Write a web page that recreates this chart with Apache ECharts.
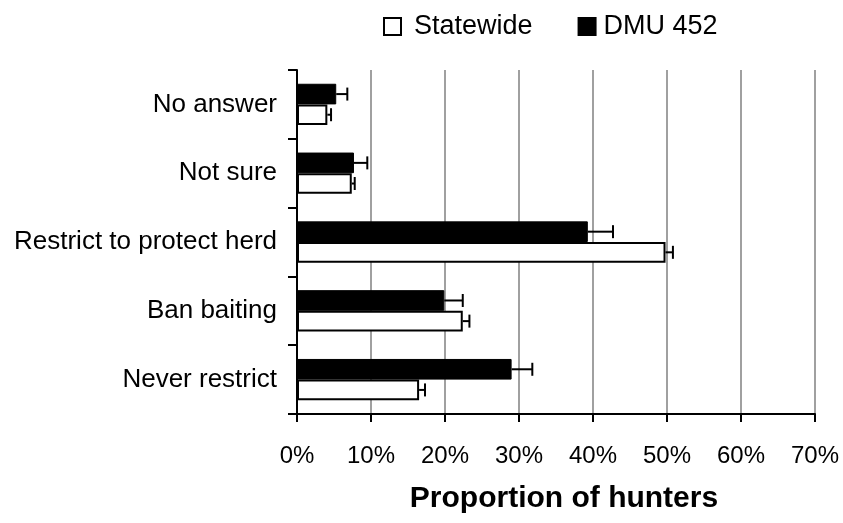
<!DOCTYPE html>
<html>
<head>
<meta charset="utf-8">
<script src="https://cdn.jsdelivr.net/npm/echarts@6/dist/echarts.min.js"></script>
<style>
  html, body { margin: 0; padding: 0; background: #fff; }
  #chart { width: 843px; height: 523px; }
</style>
</head>
<body>
<div id="chart"></div>
<script>
var categories = ['No answer', 'Not sure', 'Restrict to protect herd', 'Ban baiting', 'Never restrict'];
var dmuValues = [0.053, 0.077, 0.393, 0.199, 0.290];
var dmuErrors = [0.015, 0.018, 0.034, 0.025, 0.028];
var stateValues = [0.041, 0.074, 0.498, 0.224, 0.165];
var stateErrors = [0.005, 0.004, 0.010, 0.009, 0.008];
var xTicks = [0, 0.1, 0.2, 0.3, 0.4, 0.5, 0.6, 0.7];

var FONT = 'Liberation Sans';
var BAR_PCT = 0.30;

// error bar data: [category index, value, error]
function errData(vals, errs) {
    return vals.map(function (v, i) { return [i, v, errs[i]]; });
}

// side: -1 = upper bar of the pair, +1 = lower bar
function errRenderer(side) {
    return function (params, api) {
        var idx = api.value(0);
        var v = api.value(1);
        var e = api.value(2);
        var start = api.coord([v, idx]);
        var end = api.coord([v + e, idx]);
        var band = api.size([0, 1])[1];
        var bw = band * BAR_PCT;
        var y = start[1] + side * bw / 2;
        var cap = 13;
        return {
            type: 'group',
            children: [
                { type: 'line', shape: { x1: start[0], y1: y, x2: end[0], y2: y },
                  style: { stroke: '#000', lineWidth: 2 } },
                { type: 'line', shape: { x1: end[0], y1: y - cap / 2, x2: end[0], y2: y + cap / 2 },
                  style: { stroke: '#000', lineWidth: 2 } }
            ]
        };
    };
}

var chart = echarts.init(document.getElementById('chart'));
chart.setOption({
    animation: false,
    backgroundColor: '#fff',
    textStyle: { fontFamily: FONT, color: '#000' },
    legend: {
        data: [
            { name: 'Statewide', textStyle: { padding: [0, 0, 0, 8] } },
            { name: 'DMU 452', textStyle: { padding: [0, 0, 0, 3] } }
        ],
        left: 378,
        top: 8,
        icon: 'rect',
        itemWidth: 17,
        itemHeight: 17,
        itemGap: 45,
        textStyle: { fontFamily: FONT, fontSize: 27, color: '#000' }
    },
    grid: { left: 297, right: 28, top: 70, bottom: 109, containLabel: false },
    xAxis: {
        type: 'value',
        min: 0,
        max: 0.7,
        interval: 0.1,
        name: 'Proportion of hunters',
        nameLocation: 'middle',
        nameGap: 70,
        nameTextStyle: { fontFamily: FONT, fontSize: 30, fontWeight: 'bold', color: '#000', padding: [0, 0, 0, 16] },
        axisLine: { show: true, lineStyle: { color: '#000', width: 2 } },
        axisTick: { show: true, length: 8, lineStyle: { color: '#000', width: 2 } },
        axisLabel: {
            margin: 30,
            fontSize: 24,
            color: '#000',
            formatter: function (v) { return Math.round(v * 100) + '%'; }
        },
        splitLine: { show: true, lineStyle: { color: '#808080', width: 1.5 } }
    },
    yAxis: {
        type: 'category',
        data: categories,
        inverse: true,
        axisLine: { show: true, lineStyle: { color: '#000', width: 2 } },
        axisTick: { show: true, length: 9, lineStyle: { color: '#000', width: 2 } },
        axisLabel: { margin: 20, fontSize: 26, color: '#000' },
        splitLine: { show: false }
    },
    series: [
        {
            name: 'DMU 452',
            type: 'bar',
            data: dmuValues,
            barWidth: (BAR_PCT * 100) + '%',
            barGap: '0%',
            itemStyle: { color: '#000', borderColor: '#000', borderWidth: 1 }
        },
        {
            name: 'Statewide',
            type: 'bar',
            data: stateValues,
            barWidth: (BAR_PCT * 100) + '%',
            barGap: '0%',
            itemStyle: { color: '#fff', borderColor: '#000', borderWidth: 2 }
        },
        {
            name: 'DMU err',
            type: 'custom',
            renderItem: errRenderer(-1),
            data: errData(dmuValues, dmuErrors),
            encode: { x: 1, y: 0 },
            z: 5
        },
        {
            name: 'State err',
            type: 'custom',
            renderItem: errRenderer(1),
            data: errData(stateValues, stateErrors),
            encode: { x: 1, y: 0 },
            z: 5
        }
    ]
});
</script>
</body>
</html>
